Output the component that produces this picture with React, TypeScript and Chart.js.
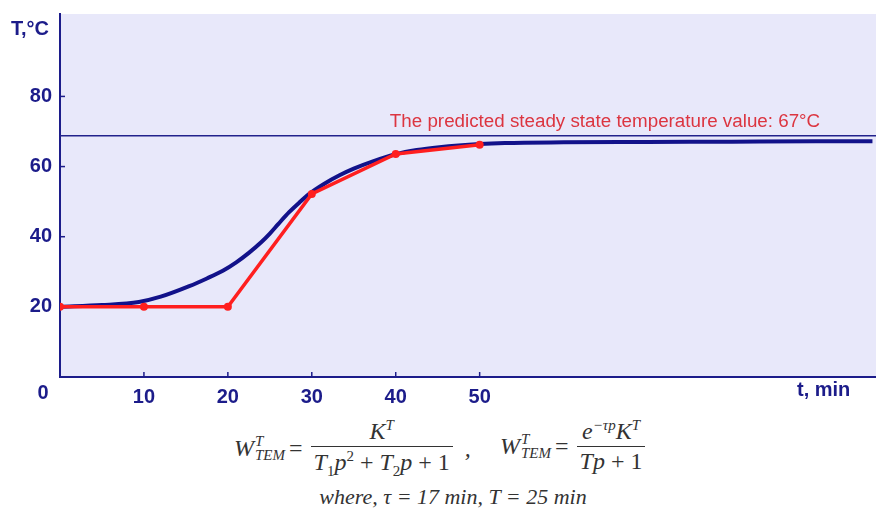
import React, { useEffect, useRef } from "react";
import { Chart, registerables } from "chart.js";

Chart.register(...registerables);

// Model curve (second-order response)
const modelTime = [0, 5, 9.4, 12, 15.4, 17.5, 19.4, 21, 22.5, 24, 25, 26, 27.3, 28.5, 29.7, 31.5, 33.3, 35, 37.2, 40, 42.5, 45.2, 50, 53, 60, 70, 80, 90, 96.8];
const modelTemp = [20, 20.5, 21.4, 22.9, 25.9, 28.1, 30.3, 32.7, 35.4, 38.5, 40.9, 43.6, 47, 49.7, 52.2, 55.1, 57.5, 59.4, 61.4, 63.5, 64.7, 65.5, 66.4, 66.7, 66.9, 67, 67.1, 67.2, 67.2];

// Measured points
const measuredTime = [0, 10, 20, 30, 40, 50];
const measuredTemp = [20, 20, 20, 52.2, 63.6, 66.2];

// Predicted steady state line
const steadyTime = [0, 97.7];
const steadyTemp = [68.8, 68.8];

const xTickLabels = [10, 20, 30, 40, 50];
const yTickLabels = [20, 40, 60, 80];
const annotationText = "The predicted steady state temperature value: 67°C";

const NAVY = "#1c1c8a";
const FONT_FAMILY = "Arial, 'Liberation Sans', sans-serif";
const AXIS_FONT = "bold 20px " + FONT_FAMILY;

const decorPlugin = {
  id: "decor",
  beforeDraw(chart: any) {
    const { ctx, chartArea } = chart;
    ctx.save();
    ctx.fillStyle = "#e8e8fa";
    ctx.fillRect(chartArea.left, chartArea.top, chartArea.right - chartArea.left, chartArea.bottom - chartArea.top);
    ctx.restore();
  },
  beforeDatasetsDraw(chart: any) {
    const { ctx, chartArea, scales } = chart;
    ctx.save();
    ctx.strokeStyle = NAVY;
    ctx.lineWidth = 1.5;
    yTickLabels.forEach((v) => {
      const y = scales.y.getPixelForValue(v);
      ctx.beginPath();
      ctx.moveTo(chartArea.left, y);
      ctx.lineTo(chartArea.left + 5, y);
      ctx.stroke();
    });
    xTickLabels.forEach((v) => {
      const x = scales.x.getPixelForValue(v);
      ctx.beginPath();
      ctx.moveTo(x, chartArea.bottom);
      ctx.lineTo(x, chartArea.bottom - 5);
      ctx.stroke();
    });
    ctx.restore();
  },
  afterDraw(chart: any) {
    const { ctx, scales } = chart;
    ctx.save();
    ctx.fillStyle = NAVY;
    ctx.font = AXIS_FONT;
    ctx.textBaseline = "middle";
    ctx.textAlign = "left";
    ctx.fillText("T,°C", 11, 29);
    ctx.textAlign = "center";
    ctx.fillText("0", 43, 393);
    ctx.textAlign = "left";
    ctx.fillText("t, min", 797, 390);
    ctx.fillStyle = "#dc3540";
    ctx.font = "18.8px " + FONT_FAMILY;
    ctx.textBaseline = "alphabetic";
    ctx.fillText(annotationText, scales.x.getPixelForValue(39.3), scales.y.getPixelForValue(68.8) - 9);
    ctx.restore();
  },
};

function Frac({ num, den }: { num: React.ReactNode; den: React.ReactNode }) {
  return (
    <span style={{ display: "inline-flex", flexDirection: "column", alignItems: "center", verticalAlign: "middle", margin: "0 4px" }}>
      <span style={{ padding: "0 3px 1px" }}>{num}</span>
      <span style={{ borderTop: "1.4px solid #333", padding: "1px 3px 0", alignSelf: "stretch", textAlign: "center" }}>{den}</span>
    </span>
  );
}

function WTem() {
  return (
    <span style={{ display: "inline-flex", alignItems: "center" }}>
      <span>W</span>
      <span style={{ display: "inline-flex", flexDirection: "column", fontSize: 15, lineHeight: "14px", marginLeft: 1 }}>
        <span>T</span>
        <span>TEM</span>
      </span>
    </span>
  );
}

const S = (t: string, normal = false) => <span style={{ fontStyle: normal ? "normal" : "italic" }}>{t}</span>;

export default function App() {
  const ref = useRef<HTMLCanvasElement | null>(null);
  useEffect(() => {
    if (!ref.current) return;
    const chart = new Chart(ref.current, {
      type: "line",
      data: {
        datasets: [
          {
            label: "measured",
            data: measuredTime.map((t, i) => ({ x: t, y: measuredTemp[i] })),
            borderColor: "#ff1f1f",
            backgroundColor: "#ff1f1f",
            borderWidth: 3.5,
            pointRadius: 4,
            pointBorderWidth: 0,
            tension: 0,
            order: 0,
          },
          {
            label: "model",
            data: modelTime.map((t, i) => ({ x: t, y: modelTemp[i] })),
            borderColor: "#12128a",
            borderWidth: 4,
            pointRadius: 0,
            cubicInterpolationMode: "monotone",
            order: 1,
          },
          {
            label: "steady",
            data: steadyTime.map((t, i) => ({ x: t, y: steadyTemp[i] })),
            borderColor: "#22228c",
            borderWidth: 1.5,
            pointRadius: 0,
            order: 2,
          },
        ],
      },
      options: {
        animation: false,
        responsive: false,
        events: [],
        layout: { padding: { top: 14, right: 0, left: 0, bottom: 0 } },
        plugins: { legend: { display: false }, tooltip: { enabled: false } },
        scales: {
          x: {
            type: "linear",
            min: 0,
            max: 97.7,
            afterFit: (s: any) => { s.height = 34; s.paddingRight = 0; s.paddingLeft = 0; },
            grid: { display: false, drawTicks: false },
            border: { display: true, color: NAVY, width: 2 },
            ticks: {
              stepSize: 10,
              autoSkip: false,
              maxRotation: 0,
              padding: 8,
              color: NAVY,
              font: { family: FONT_FAMILY, size: 20, weight: "bold" },
              callback: (v: any) => (xTickLabels.includes(Number(v)) ? String(v) : ""),
            },
          },
          y: {
            type: "linear",
            min: 0,
            max: 103.5,
            afterFit: (s: any) => { s.width = 60; s.paddingTop = 0; s.paddingBottom = 0; },
            grid: { display: false, drawTicks: false },
            border: { display: true, color: NAVY, width: 2 },
            ticks: {
              stepSize: 20,
              padding: 8,
              color: NAVY,
              font: { family: FONT_FAMILY, size: 20, weight: "bold" },
              callback: (v: any) => (yTickLabels.includes(Number(v)) ? String(v) : ""),
            },
          },
        },
      },
      plugins: [decorPlugin],
    } as any);
    return () => chart.destroy();
  }, []);

  const mathStyle: React.CSSProperties = {
    position: "absolute",
    fontFamily: "'Liberation Serif', 'DejaVu Serif', serif",
    fontStyle: "italic",
    fontSize: 24,
    color: "#333",
    display: "flex",
    alignItems: "center",
    whiteSpace: "nowrap",
  };
  const sup: React.CSSProperties = { fontSize: 15, fontStyle: "italic" };
  const subN: React.CSSProperties = { fontSize: 15, fontStyle: "normal" };

  return (
    <div style={{ position: "fixed", left: 0, top: 0, width: 876, height: 514, background: "#fff", overflow: "hidden" }}>
      <canvas ref={ref} width={884} height={411} style={{ width: 884, height: 411, display: "block" }} />
      <div style={{ ...mathStyle, left: 234, top: 417 }}>
        <WTem />
        <span style={{ margin: "0 4px", fontStyle: "normal" }}>=</span>
        <Frac
          num={<span>K<sup style={sup}>T</sup></span>}
          den={<span>T<sub style={subN}>1</sub>p<sup style={subN}>2</sup> {S("+", true)} T<sub style={subN}>2</sub>p {S("+ 1", true)}</span>}
        />
        <span style={{ marginLeft: 8 }}>,</span>
      </div>
      <div style={{ ...mathStyle, left: 500, top: 417 }}>
        <WTem />
        <span style={{ margin: "0 4px", fontStyle: "normal" }}>=</span>
        <Frac
          num={<span>e<sup style={sup}>−τp</sup>K<sup style={sup}>T</sup></span>}
          den={<span>Tp {S("+ 1", true)}</span>}
        />
      </div>
      <div style={{ ...mathStyle, left: 0, width: 906, top: 484, justifyContent: "center", fontSize: 22 }}>
        where, τ = 17 min, T = 25 min
      </div>
    </div>
  );
}
